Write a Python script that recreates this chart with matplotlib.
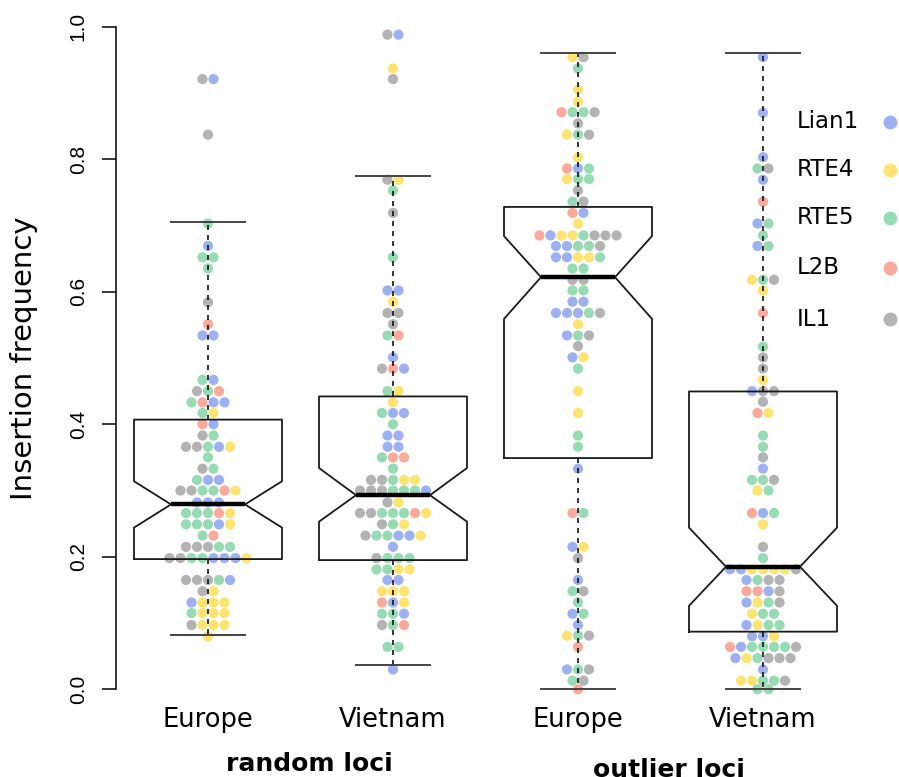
import matplotlib
matplotlib.use('Agg')
import matplotlib.pyplot as plt

# families and their colours
families = ['Lian1', 'RTE4', 'RTE5', 'L2B', 'IL1']
codes = {'B': 'Lian1', 'Y': 'RTE4', 'G': 'RTE5', 'R': 'L2B', 'K': 'IL1'}
colors = {'Lian1': '#9db1f2', 'RTE4': '#fde36f', 'RTE5': '#96dbb4',
          'L2B': '#fba99a', 'IL1': '#b3b3b3'}

group_labels = ['Europe', 'Vietnam', 'Europe', 'Vietnam']
set_labels = ['random loci', 'outlier loci']

# swarm rows: (insertion frequency, families in the row left to right)
europe_random = [
    (0.921, "KB"), (0.837, "K"), (0.703, "G"), (0.669, "B"), (0.652, "GG"), (0.635, "G"),
    (0.584, "K"), (0.551, "R"), (0.534, "BB"), (0.467, "GB"), (0.450, "KGR"), (0.433, "GRBB"),
    (0.417, "GY"), (0.400, "RB"), (0.383, "KG"), (0.366, "KKGBY"), (0.350, "G"), (0.333, "KG"),
    (0.316, "GBB"), (0.300, "KKGGRY"), (0.282, "BBB"), (0.266, "GGGRY"), (0.249, "GGGBY"),
    (0.232, "GR"), (0.215, "KKKGG"), (0.198, "KKGGBBBY"), (0.165, "KKKGB"), (0.148, "KY"),
    (0.131, "BYYY"), (0.115, "GYYY"), (0.097, "KYYY"), (0.080, "Y")]

vietnam_random = [
    (0.988, "KB"), (0.937, "Y"), (0.921, "K"), (0.769, "KY"), (0.753, "G"), (0.719, "K"),
    (0.652, "G"), (0.602, "BB"), (0.585, "Y"), (0.568, "KK"), (0.551, "K"), (0.534, "GR"),
    (0.501, "B"), (0.484, "KRB"), (0.450, "GY"), (0.433, "Y"), (0.417, "GBB"), (0.400, "G"),
    (0.383, "BB"), (0.366, "BB"), (0.350, "GRR"), (0.333, "G"), (0.316, "KKGYY"),
    (0.300, "KKKGGGB"), (0.282, "KY"), (0.266, "KKGGGRY"), (0.249, "KGY"), (0.232, "KGGBBY"),
    (0.215, "B"), (0.198, "KGGG"), (0.181, "GGYY"), (0.165, "BB"), (0.148, "YYY"),
    (0.131, "RBY"), (0.114, "GGB"), (0.097, "KGR"), (0.064, "GG"), (0.030, "B")]

europe_outlier = [
    (0.954, "YK"), (0.937, "G"), (0.905, "Y"), (0.887, "Y"), (0.871, "RGGK"), (0.854, "K"),
    (0.837, "YGK"), (0.803, "Y"), (0.786, "RBG"), (0.770, "YGG"), (0.753, "K"), (0.736, "GK"),
    (0.719, "RB"), (0.703, "Y"), (0.685, "RBYYGKKK"), (0.669, "BBGGK"), (0.652, "BBYYG"),
    (0.635, "GG"), (0.618, "KK"), (0.602, "GG"), (0.585, "BB"), (0.568, "BBBGK"), (0.551, "Y"),
    (0.534, "BGK"), (0.518, "K"), (0.501, "BY"), (0.484, "G"), (0.450, "Y"), (0.417, "Y"),
    (0.383, "G"), (0.366, "G"), (0.333, "B"), (0.266, "RG"), (0.215, "BY"), (0.198, "K"),
    (0.165, "B"), (0.148, "GK"), (0.131, "G"), (0.114, "BG"), (0.097, "B"), (0.081, "YGK"),
    (0.064, "R"), (0.030, "BGK"), (0.013, "GK"), (0.0, "R")]

vietnam_outlier = [
    (0.954, "B"), (0.870, "B"), (0.803, "B"), (0.786, "GK"), (0.769, "B"), (0.736, "R"),
    (0.703, "BG"), (0.685, "G"), (0.669, "BG"), (0.618, "YGK"), (0.602, "Y"), (0.568, "R"),
    (0.517, "G"), (0.501, "K"), (0.484, "K"), (0.467, "Y"), (0.450, "BKK"), (0.434, "K"),
    (0.417, "RY"), (0.383, "G"), (0.366, "G"), (0.350, "K"), (0.333, "B"), (0.316, "GGK"),
    (0.300, "YG"), (0.266, "RBG"), (0.249, "Y"), (0.215, "K"), (0.198, "G"),
    (0.181, "BBYYYYK"), (0.165, "BGKK"), (0.148, "RRBK"), (0.131, "BYGK"), (0.114, "YGG"),
    (0.097, "BYGG"), (0.080, "BBY"), (0.064, "RBGGGGK"), (0.047, "BYGKKK"), (0.030, "B"),
    (0.013, "YYGGK"), (0.0, "GG")]

groups = [europe_random, vietnam_random, europe_outlier, vietnam_outlier]

# notched box statistics
whislo = [0.082, 0.037, 0.0, 0.0]
q1 = [0.1965, 0.195, 0.349, 0.087]
cilo = [0.244, 0.253, 0.559, 0.126]
med = [0.279, 0.293, 0.622, 0.185]
cihi = [0.314, 0.334, 0.684, 0.244]
q3 = [0.407, 0.442, 0.728, 0.4495]
whishi = [0.706, 0.774, 0.961, 0.961]

W, H = 899, 777
fig = plt.figure(figsize=(W / 100, H / 100), dpi=100)
ax = fig.add_axes([115.5 / W, 1 - 715.8 / H, 740 / W, 715.6 / H])

step = 0.0595  # horizontal spacing of swarm points
for pos, rows in enumerate(groups, start=1):
    xs, ys, cs = [], [], []
    for val, fams in rows:
        n = len(fams)
        for i, c in enumerate(fams):
            xs.append(pos + (i - (n - 1) / 2) * step)
            ys.append(val)
            cs.append(colors[codes[c]])
    ax.scatter(xs, ys, s=54, c=cs, linewidths=0, zorder=1)

stats = []
for i in range(4):
    stats.append(dict(whislo=whislo[i], q1=q1[i], cilo=cilo[i], med=med[i],
                      cihi=cihi[i], q3=q3[i], whishi=whishi[i]))
ax.bxp(stats, positions=[1, 2, 3, 4], widths=0.8, shownotches=True, showfliers=False,
       boxprops=dict(color='#1a1a1a', linewidth=1.3),
       whiskerprops=dict(color='#111111', linewidth=1.2, linestyle=(0, (3, 3))),
       capprops=dict(color='#444444', linewidth=1.4),
       medianprops=dict(color='black', linewidth=3.2, solid_capstyle='butt'),
       manage_ticks=False, zorder=2)

ax.set_xlim(0.5, 4.5)
ax.set_ylim(-0.04, 1.04)
for s in ['top', 'right', 'bottom']:
    ax.spines[s].set_visible(False)
ax.spines['left'].set_bounds(0, 1)
ax.spines['left'].set_linewidth(1.1)
ax.set_yticks([0, 0.2, 0.4, 0.6, 0.8, 1.0])
ax.set_yticklabels(['0.0', '0.2', '0.4', '0.6', '0.8', '1.0'], rotation=90,
                   va='center', fontsize=15, family='Liberation Sans')
ax.tick_params(axis='y', length=10, width=1.1, pad=10)
ax.set_xticks([1, 2, 3, 4])
ax.set_xticklabels(group_labels, fontsize=18.5)
ax.tick_params(axis='x', length=0, pad=-6)
ax.set_ylabel('Insertion frequency', fontsize=21)
ax.yaxis.set_label_coords(-0.105, 0.5)

ax.text(1.55, -0.113, set_labels[0], fontsize=18, fontweight='bold', ha='center',
        va='center', clip_on=False)
ax.text(3.49, -0.122, set_labels[1], fontsize=18, fontweight='bold', ha='center',
        va='center', clip_on=False)

# legend outside the plot region, labels left of the dots
leg_y = [121.7, 169.5, 218, 268, 319]
for fam, y in zip(families, leg_y):
    fig.text(797 / W, 1 - y / H, fam, fontsize=16.5, ha='left', va='center')
    ax.plot([890 / W], [1 - y / H], 'o', ms=10, color=colors[fam], mec='none',
            transform=fig.transFigure, clip_on=False)

fig.savefig('out.png', dpi=100)
